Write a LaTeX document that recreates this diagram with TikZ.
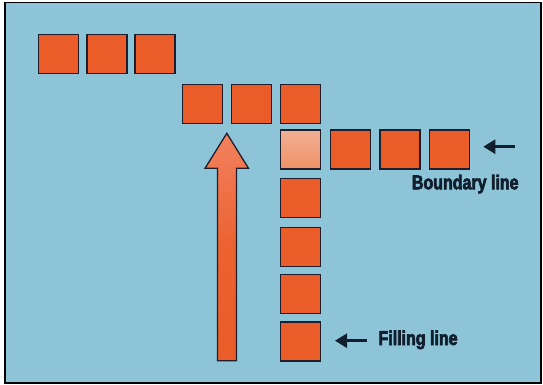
\documentclass[tikz,border=0pt]{standalone}
\usepackage{fontspec}
\newfontfamily\labfont[FakeStretch=0.8,FakeBold=3]{Liberation Sans Bold}
\usetikzlibrary{arrows.meta}
\definecolor{bgblue}{RGB}{142,196,216}
\definecolor{org}{RGB}{234,92,40}
\definecolor{outl}{RGB}{30,30,45}
\definecolor{peachtop}{RGB}{242,176,150}
\definecolor{peachbot}{RGB}{238,145,100}
\definecolor{salmon}{RGB}{242,130,95}
\definecolor{ink}{RGB}{16,30,45}
\tikzset{
  sq/.style={draw=outl, line width=1.3pt, fill=org, minimum width=40pt, minimum height=39pt, inner sep=0pt},
  lab/.style={font=\labfont\fontsize{20}{20}\selectfont, text=ink, inner sep=0pt, anchor=base west},
  ptr/.style={draw=ink, line width=2.6pt, -{Triangle[length=12pt,width=14pt]}}
}
\begin{document}
\begin{tikzpicture}[x=1pt,y=-1pt]
\useasboundingbox (0,0) rectangle (543,385);
\fill[white] (0,0) rectangle (543,385);
\draw[fill=bgblue, line width=1.2pt, draw=black] (5,2.7) rectangle (541,383);
% row 1
\node[sq] (a1) at (58.7,54) {};
\node[sq] (a2) at (107,54) {};
\node[sq] (a3) at (155,54) {};
% row 2
\node[sq] (b1) at (202.7,103.7) {};
\node[sq] (b2) at (251.7,103.7) {};
\node[sq] (b3) at (300.2,103.7) {};
% row 3
\node[sq, top color=peachtop, bottom color=peachbot, draw=outl] (c1) at (300.2,149.5) {};
\node[sq] (c2) at (350.6,149.5) {};
\node[sq] (c3) at (400,149.5) {};
\node[sq] (c4) at (449.3,149.5) {};
% column
\node[sq] (d1) at (300.2,198) {};
\node[sq] (d2) at (300.2,246.7) {};
\node[sq] (d3) at (300.2,293.7) {};
\node[sq] (d4) at (300.2,341.5) {};
% big arrow
\draw[draw=outl, line width=1.3pt, top color=salmon, bottom color=org, middle color=org!85!salmon]
  (217.5,360.7) -- (217.5,168.3) -- (205,168.3) -- (226.8,133.3) -- (248.5,168.3) -- (236.5,168.3) -- (236.5,360.7) -- cycle;
% labels
\node[lab] (bl) at (411.7,189.3) {Boundary line};
\node[lab] (fl) at (378.3,345) {Filling line};
\coordinate (bt) at (515,146.7);
\coordinate (bh) at (483.3,146.7);
\coordinate (ft) at (366.7,340.7);
\coordinate (fh) at (335,340.7);
\draw[ptr] (bt) -- (bh);
\draw[ptr] (ft) -- (fh);
\end{tikzpicture}
\end{document}
